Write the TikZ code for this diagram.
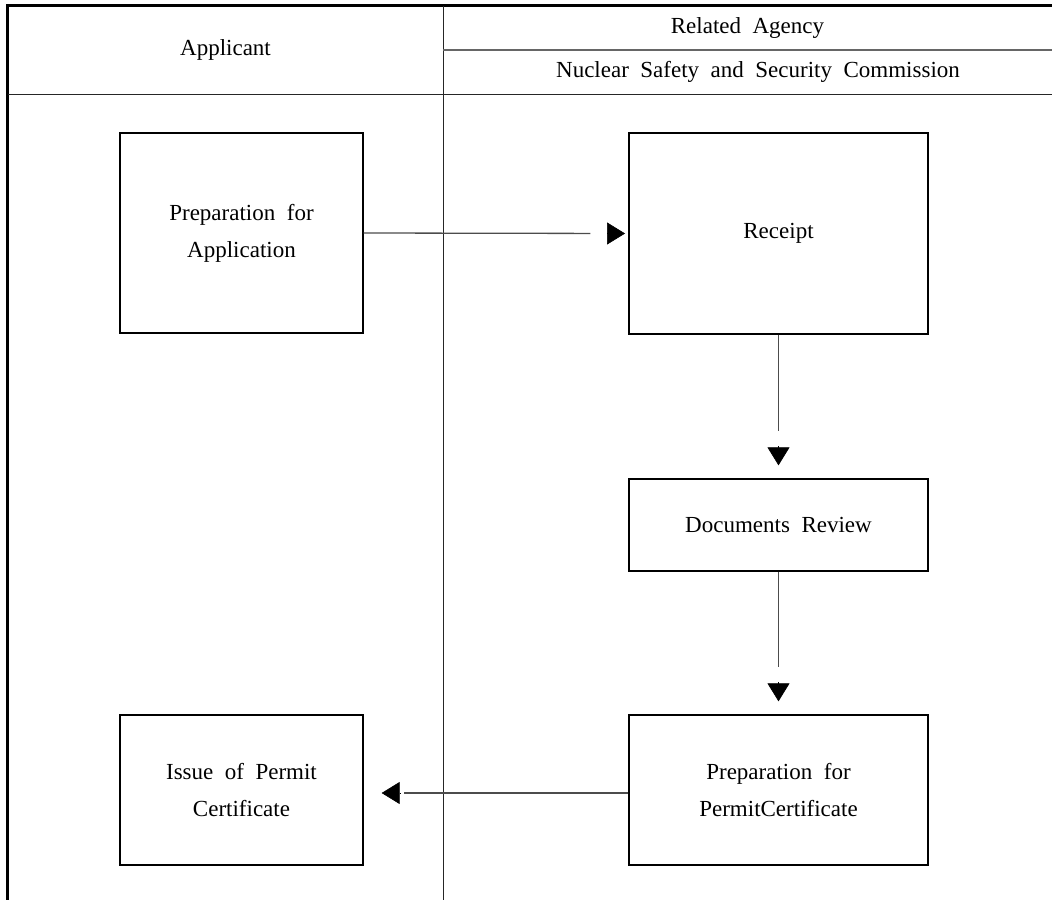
\documentclass[tikz,border=0pt]{standalone}
\usepackage{fontspec}
\setmainfont{Liberation Serif}
\usetikzlibrary{arrows.meta}
\newcommand\lanefont{\fontsize{23bp}{37bp}\selectfont\spaceskip=0.5em plus 0.1em\relax}
\begin{document}
\begin{tikzpicture}[x=1bp,y=-1bp,
  txt/.style={font=\lanefont, align=center, inner sep=0pt},
  box/.style={txt, draw=black, line width=1.3bp},
  frame/.style={line width=2.7bp, black},
  rule/.style={line width=1.3bp, black!85},
  conn/.style={line width=1.3bp, black!70},
  headtip/.style={line width=0.6bp, black, -{Triangle[length=18bp 0,width=22bp 0]}}
]
\useasboundingbox (0,0) rectangle (1052,900);

% swimlane frame
\draw[frame] (1052,5.5) -- (7.7,5.5) -- (7.7,900);
\draw[rule] (7.7,94.5) -- (1052,94.5);
\draw[rule] (443.3,5.5) -- (443.3,900);
\draw[rule, black!60] (443.3,50) -- (1052,50);

% lane headings
\node[txt] (hApp) at (225.5,50) {Applicant};
\node[txt] (hRel) at (747.5,28) {Related Agency};
\node[txt] (hNssc) at (758,72) {Nuclear Safety and Security Commission};

% process steps
\node[box, minimum width=243bp, minimum height=200bp] (prepApp) at (241.5,233) {Preparation for\\Application};
\node[box, minimum width=299bp, minimum height=201bp] (receipt) at (778.5,233.5) {Receipt};
\node[box, minimum width=299bp, minimum height=92bp] (review) at (778.5,525) {Documents Review};
\node[box, minimum width=299bp, minimum height=150bp] (prepPermit) at (778.5,790) {Preparation for\\PermitCertificate};
\node[box, minimum width=243bp, minimum height=150bp] (issue) at (241.5,790) {Issue of Permit\\Certificate};

% flow lines, each stopping short of a detached arrowhead
\draw[conn, shorten >=38bp] (prepApp.east) -- (receipt.west);
\draw[headtip, shorten >=3.3bp] ([xshift=-21.3bp]receipt.west) -- (receipt.west);

\draw[conn, shorten >=47bp] (receipt.south) -- (review.north);
\draw[headtip, shorten >=13bp] ([yshift=32bp]review.north) -- (review.north);

\draw[conn, shorten >=47bp] (review.south) -- (prepPermit.north);
\draw[headtip, shorten >=13bp] ([yshift=32bp]prepPermit.north) -- (prepPermit.north);

\draw[conn, shorten >=40bp] ([yshift=-3bp]prepPermit.west) -- ([yshift=-3bp]issue.east);
\draw[headtip, shorten >=18bp] ([xshift=36bp,yshift=-3bp]issue.east) -- ([yshift=-3bp]issue.east);
\end{tikzpicture}
\end{document}
